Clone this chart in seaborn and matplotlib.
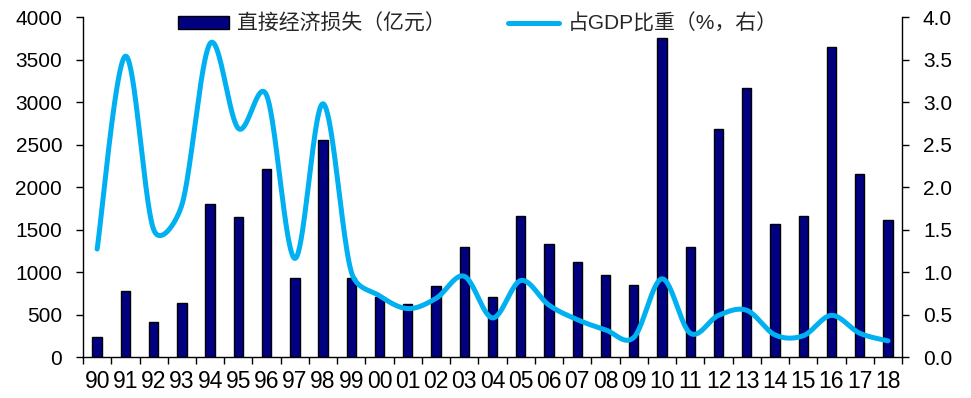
import numpy as np
import pandas as pd
import seaborn as sns
import matplotlib
matplotlib.use("Agg")
import matplotlib.pyplot as plt
from matplotlib.patches import Patch
from matplotlib.lines import Line2D
from matplotlib.ticker import FixedLocator, NullFormatter, FixedFormatter

years = ["90", "91", "92", "93", "94", "95", "96", "97", "98", "99",
         "00", "01", "02", "03", "04", "05", "06", "07", "08", "09",
         "10", "11", "12", "13", "14", "15", "16", "17", "18"]
loss = [240, 780, 410, 640, 1800, 1650, 2210, 930, 2550, 930,
        710, 620, 840, 1300, 710, 1660, 1330, 1120, 960, 850,
        3750, 1300, 2680, 3160, 1570, 1660, 3650, 2150, 1610]
gdp_share = [1.27, 3.54, 1.50, 1.79, 3.69, 2.69, 3.08, 1.16, 2.98, 1.00,
             0.72, 0.57, 0.69, 0.95, 0.46, 0.90, 0.61, 0.44, 0.32, 0.23,
             0.92, 0.28, 0.49, 0.55, 0.26, 0.25, 0.49, 0.28, 0.19]

bar_label = "直接经济损失（亿元）"
line_label = "占GDP比重（%，右）"

BAR_COLOR = "#000080"
LINE_COLOR = "#00B0F0"

sns.set_theme(style="white")
plt.rcParams["font.family"] = ["Liberation Sans", "Noto Sans CJK SC", "DejaVu Sans"]


def smooth_curve(values, x_scale=28.24, y_scale=85.0, limit=0.5, steps=40):
    """Cardinal (Catmull-Rom) Bezier smoothing through evenly spaced points.

    Handles are a third of the neighbour-to-neighbour tangent, capped at a
    fraction of the segment they belong to, so short segments next to steep
    ones do not bulge.
    """
    p = np.asarray(values, dtype=float)
    n = len(p)
    pts = np.column_stack([np.arange(n) * x_scale, p * y_scale])
    tang = np.zeros_like(pts)
    for i in range(n):
        a = pts[max(i - 1, 0)]
        b = pts[min(i + 1, n - 1)]
        tang[i] = (b - a) / 2.0

    def handle(v, seg_len):
        h = v / 3.0
        ln = np.linalg.norm(h)
        cap = limit * seg_len
        return h * (cap / ln) if ln > cap else h

    t = np.linspace(0, 1, steps, endpoint=False)[:, None]
    out = []
    for i in range(n - 1):
        p0, p3 = pts[i], pts[i + 1]
        seg = np.linalg.norm(p3 - p0)
        p1 = p0 + handle(tang[i], seg)
        p2 = p3 - handle(tang[i + 1], seg)
        out.append((1 - t) ** 3 * p0 + 3 * (1 - t) ** 2 * t * p1
                   + 3 * (1 - t) * t ** 2 * p2 + t ** 3 * p3)
    out.append(pts[-1:])
    curve = np.vstack(out)
    return curve[:, 0] / x_scale, curve[:, 1] / y_scale


df = pd.DataFrame({"year": years, "loss": loss})

fig = plt.figure(figsize=(9.71, 3.98), dpi=100)
ax = fig.add_axes([0.0855, 0.103, 0.8435, 0.854])

sns.barplot(data=df, x="year", y="loss", color=BAR_COLOR, width=0.33,
            edgecolor="black", linewidth=1.0, saturation=1, ax=ax)

ax.set_xlim(-0.5, len(years) - 0.5)
ax.set_ylim(0, 4000)
ax.set_yticks(np.arange(0, 4001, 500))
ax.set_xlabel("")
ax.set_ylabel("")

# category boundaries carry the tick marks, centres carry the labels
ax.xaxis.set_major_locator(FixedLocator(np.arange(-0.5, len(years), 1.0)))
ax.xaxis.set_major_formatter(NullFormatter())
ax.xaxis.set_minor_locator(FixedLocator(np.arange(len(years))))
ax.xaxis.set_minor_formatter(FixedFormatter(years))
ax.tick_params(axis="x", which="major", direction="out", length=5, width=1, color="black", bottom=True)
ax.tick_params(axis="x", which="minor", length=0, pad=9, labelsize=16.5, labelcolor="black", bottom=True)
ax.tick_params(axis="y", direction="out", length=5, width=1, color="black", left=True,
               labelsize=15, labelcolor="black", pad=10)

for side in ["left", "bottom"]:
    ax.spines[side].set_color("black")
    ax.spines[side].set_linewidth(1.0)
ax.spines["top"].set_visible(False)
ax.spines["right"].set_visible(False)

ax2 = ax.twinx()
sx, sy = smooth_curve(gdp_share)
sns.lineplot(x=sx, y=sy, sort=False, color=LINE_COLOR, linewidth=3.6,
             solid_capstyle="round", ax=ax2)
ax2.set_ylim(0, 4.0)
ax2.set_yticks(np.arange(0, 4.01, 0.5))
ax2.set_yticklabels([f"{v:.1f}" for v in np.arange(0, 4.01, 0.5)])
ax2.set_ylabel("")
ax2.tick_params(axis="y", direction="out", length=5, width=1, color="black", right=True,
                labelsize=15, labelcolor="black", pad=10)
for side in ["top", "left", "bottom"]:
    ax2.spines[side].set_visible(False)
ax2.spines["right"].set_color("black")
ax2.spines["right"].set_linewidth(1.0)
ax2.grid(False)
ax.grid(False)

handles = [Patch(facecolor=BAR_COLOR, edgecolor="black", linewidth=1.0),
           Line2D([0], [0], color=LINE_COLOR, linewidth=3.6, solid_capstyle="round")]
fig.legend(handles, [bar_label, line_label], loc="center", bbox_to_anchor=(0.492, 0.94),
           ncol=2, frameon=False, handlelength=2.45, handleheight=0.63,
           handletextpad=0.4, columnspacing=2.98,
           prop={"family": ["Liberation Sans", "Noto Sans CJK SC"], "size": 15})

fig.savefig("out.png", dpi=100)
